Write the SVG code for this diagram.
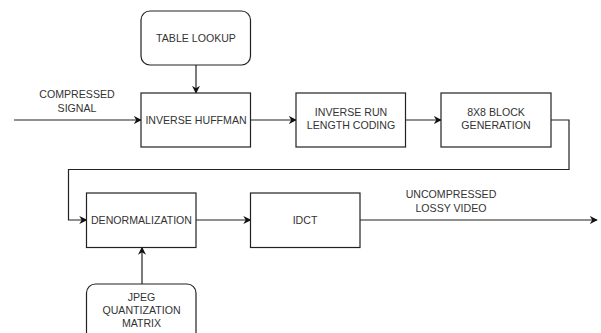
<svg xmlns="http://www.w3.org/2000/svg" width="601" height="333" viewBox="0 0 601 333">
  <style>
    .box { fill: #ffffff; stroke: #222222; stroke-width: 1.2; }
    .line { fill: none; stroke: #222222; stroke-width: 1.2; }
    text { font-family: "Liberation Sans", Arial, sans-serif; font-size: 10.6px; fill: #333333; text-anchor: middle; }
  </style>
  <defs>
    <marker id="arrow" viewBox="0 0 10 10" refX="9" refY="5" markerWidth="8" markerHeight="8" markerUnits="userSpaceOnUse" orient="auto">
      <path d="M0,0 L10,5 L0,10 L3,5 Z" fill="#111111"/>
    </marker>
  </defs>
  <rect width="601" height="333" fill="#ffffff"/>

  <g id="connectors">
    <line class="line" x1="196" y1="65" x2="196" y2="93" marker-end="url(#arrow)"/>
    <line class="line" x1="14" y1="120" x2="141" y2="120" marker-end="url(#arrow)"/>
    <line class="line" x1="250" y1="120" x2="296" y2="120" marker-end="url(#arrow)"/>
    <line class="line" x1="405" y1="120" x2="441" y2="120" marker-end="url(#arrow)"/>
    <polyline class="line" points="551,120 569,120 569,169.5 68.5,169.5 68.5,220 86.5,220" marker-end="url(#arrow)"/>
    <line class="line" x1="196" y1="220" x2="250.5" y2="220" marker-end="url(#arrow)"/>
    <line class="line" x1="360" y1="220" x2="597" y2="220" marker-end="url(#arrow)"/>
    <line class="line" x1="142" y1="284" x2="142" y2="247.5" marker-end="url(#arrow)"/>
    <text x="77" y="98">COMPRESSED</text>
    <text x="77" y="112">SIGNAL</text>
    <text x="451" y="198">UNCOMPRESSED</text>
    <text x="451" y="212">LOSSY VIDEO</text>
  </g>

  <g id="table-lookup">
    <rect class="box" x="141" y="11" width="109.5" height="54" rx="9"/>
    <text x="196" y="41.5">TABLE LOOKUP</text>
  </g>

  <g id="inverse-huffman">
    <rect class="box" x="141" y="93" width="109.5" height="54"/>
    <text x="196" y="124">INVERSE HUFFMAN</text>
  </g>

  <g id="inverse-run-length">
    <rect class="box" x="296" y="93" width="109.5" height="54"/>
    <text x="351" y="116">INVERSE RUN</text>
    <text x="351" y="129">LENGTH CODING</text>
  </g>

  <g id="block-generation">
    <rect class="box" x="441" y="93" width="110" height="54"/>
    <text x="496" y="116">8X8 BLOCK</text>
    <text x="496" y="129">GENERATION</text>
  </g>

  <g id="denormalization">
    <rect class="box" x="86.5" y="193" width="109.5" height="54.5"/>
    <text x="141.5" y="223.5">DENORMALIZATION</text>
  </g>

  <g id="idct">
    <rect class="box" x="250.5" y="193" width="109.5" height="54.5"/>
    <text x="305" y="223.5">IDCT</text>
  </g>

  <g id="jpeg-quantization-matrix">
    <rect class="box" x="86.5" y="284" width="109.5" height="60" rx="9"/>
    <text x="141.5" y="301">JPEG</text>
    <text x="141.5" y="314">QUANTIZATION</text>
    <text x="141.5" y="327">MATRIX</text>
  </g>
</svg>
